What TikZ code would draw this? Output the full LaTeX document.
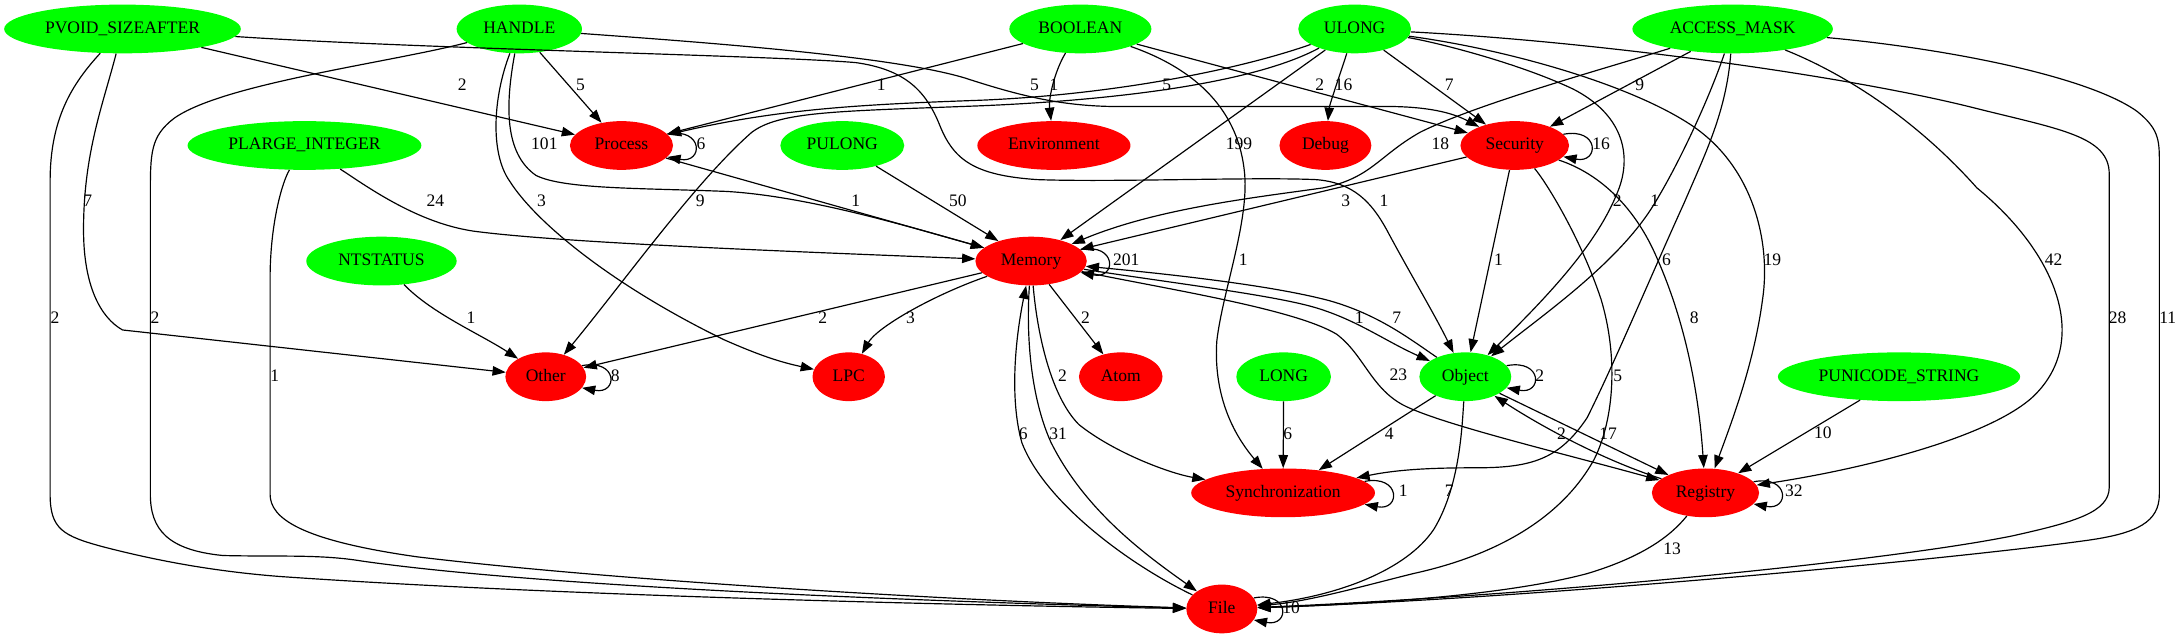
\documentclass[tikz,border=0pt]{standalone}
\usepackage{fontspec}
\setmainfont{Liberation Serif}
\usetikzlibrary{shapes.geometric,arrows.meta}
\definecolor{gvgreen}{RGB}{0,255,0}
\definecolor{gvred}{RGB}{255,0,0}
\begin{document}
\begin{tikzpicture}[x=1pt,y=-1pt,
  every node/.style={font=\fontsize{12.6}{14}\selectfont, text height=8.8pt, text depth=2.5pt, inner sep=0pt},
  tnode/.style={ellipse, fill=gvgreen, minimum height=35pt},
  cnode/.style={ellipse, fill=gvred, minimum height=35pt},
  e/.style={draw=black, line width=0.85pt, -{Triangle[length=9.5pt,width=6.8pt]}},
  lbl/.style={}]
\useasboundingbox[fill=white] (0,0) rectangle (1568,459);
% nodes
\node[tnode, minimum width=170pt] (pv) at (88,20.8) {PVOID\_SIZEAFTER};
\node[tnode, minimum width=90pt] (ha) at (373,20.8) {HANDLE};
\node[tnode, minimum width=102pt] (bo) at (776,20.8) {BOOLEAN};
\node[tnode, minimum width=81pt] (ul) at (973,20.8) {ULONG};
\node[tnode, minimum width=144pt] (am) at (1244.5,20.8) {ACCESS\_MASK};
\node[tnode, minimum width=168pt] (pl) at (218.7,104.5) {PLARGE\_INTEGER};
\node[cnode, minimum width=74pt] (pr) at (446.4,104.5) {Process};
\node[tnode, minimum width=89pt] (pu) at (605,104.5) {PULONG};
\node[cnode, minimum width=110pt] (en) at (757,104.5) {Environment};
\node[cnode, minimum width=66pt] (de) at (952,104.5) {Debug};
\node[cnode, minimum width=78pt] (se) at (1088,104.5) {Security};
\node[tnode, minimum width=108pt] (nt) at (274,187.5) {NTSTATUS};
\node[cnode, minimum width=80pt] (me) at (740.6,187.5) {Memory};
\node[cnode, minimum width=58pt] (ot) at (392,270.6) {Other};
\node[cnode, minimum width=52pt] (lp) at (609.6,270.6) {LPC};
\node[cnode, minimum width=60pt] (at) at (805,270.6) {Atom};
\node[tnode, minimum width=68pt] (lo) at (922,270.6) {LONG};
\node[tnode, minimum width=66pt] (ob) at (1052.5,270.6) {Object};
\node[tnode, minimum width=174pt] (ps) at (1364,270.6) {PUNICODE\_STRING};
\node[cnode, minimum width=132pt] (sy) at (921.6,354) {Synchronization};
\node[cnode, minimum width=77pt] (re) at (1225,354) {Registry};
\node[cnode, minimum width=51pt] (fi) at (877.6,437.4) {File};
% edges from PVOID_SIZEAFTER
\draw[e] (pv) -- (pr);
\draw[e] (pv) .. controls (74,75) and (60,110) .. (60,165) .. controls (60,205) and (72,228) .. (88,237) -- (ot);
\draw[e] (pv) .. controls (52,60) and (36,85) .. (36,130) -- (36,355) .. controls (36,380) and (45,385) .. (75,393) .. controls (110,402) and (150,410) .. (200,414) .. controls (400,428) and (700,435) .. (fi);
\draw[e] (pv) .. controls (300,35) and (560,40) .. (615,45) .. controls (650,50) and (665,65) .. (675,90) .. controls (685,115) and (700,126) .. (745,129) .. controls (800,131) and (900,127) .. (945,129) .. controls (972,131) and (985,145) .. (996,165) .. controls (1012,195) and (1030,225) .. (ob);
% HANDLE
\draw[e] (ha) -- (pr);
\draw[e] (ha) .. controls (363,75) and (362,110) .. (385,126) .. controls (405,136) and (460,135) .. (522,137.5) .. controls (580,141) and (650,162) .. (me);
\draw[e] (ha) .. controls (354,70) and (352,110) .. (366,130) .. controls (385,160) and (440,205) .. (520,244) .. controls (545,255) and (560,260) .. (lp);
\draw[e] (ha) .. controls (280,45) and (160,60) .. (125,85) .. controls (108,98) and (108,110) .. (108,140) -- (108,355) .. controls (108,380) and (120,395) .. (160,399) .. controls (200,400) and (230,398) .. (260,403) .. controls (400,423) and (700,433) .. (fi);
\draw[e] (ha) .. controls (500,30) and (640,40) .. (693,56) .. controls (730,68) and (760,76) .. (800,76.5) -- (1000,76.5) .. controls (1030,77) and (1045,82) .. (se);
% BOOLEAN
\draw[e] (bo) -- (pr);
\draw[e] (bo) .. controls (758,50) and (753,70) .. (en);
\draw[e] (bo) -- (se);
\draw[e] (bo) .. controls (860,50) and (890,80) .. (894,125) .. controls (897,160) and (878,210) .. (874,245) .. controls (872,275) and (880,305) .. (sy);
% ULONG
\draw[e] (ul) .. controls (890,50) and (800,68) .. (704,72) .. controls (620,75) and (560,78) .. (pr);
\draw[e] (ul) .. controls (900,60) and (800,72) .. (704,76) .. controls (600,80) and (560,80) .. (540,95) .. controls (500,130) and (450,200) .. (ot);
\draw[e] (ul) -- (me);
\draw[e] (ul) .. controls (962,55) and (955,75) .. (de);
\draw[e] (ul) -- (se);
\draw[e] (ul) .. controls (1030,30) and (1090,45) .. (1130,64) .. controls (1165,82) and (1172,110) .. (1163,135) .. controls (1150,170) and (1120,205) .. (ob);
\draw[e] (ul) .. controls (1080,35) and (1170,60) .. (1215,90) .. controls (1260,120) and (1272,175) .. (1266,215) .. controls (1260,260) and (1245,300) .. (re);
\draw[e] (ul) .. controls (1150,30) and (1330,55) .. (1420,78) .. controls (1480,93) and (1515,98) .. (1515,125) -- (1515,350) .. controls (1515,368) and (1490,375) .. (1445,385) .. controls (1350,404) and (1100,428) .. (fi);
% ACCESS_MASK
\draw[e] (am) .. controls (1150,50) and (1060,75) .. (1020,95) .. controls (990,112) and (985,128) .. (950,135) .. controls (900,142) and (830,150) .. (me);
\draw[e] (am) -- (se);
\draw[e] (am) .. controls (1228,70) and (1205,120) .. (1186,150) .. controls (1160,190) and (1110,225) .. (ob);
\draw[e] (am) .. controls (1240,80) and (1225,110) .. (1210,145) .. controls (1185,200) and (1160,260) .. (1140,300) .. controls (1120,330) and (1100,336) .. (1060,336) .. controls (1030,336) and (1005,337) .. (sy);
\draw[e] (am) .. controls (1330,55) and (1380,90) .. (1420,135) .. controls (1475,180) and (1500,240) .. (1465,280) .. controls (1440,310) and (1350,335) .. (re);
\draw[e] (am) .. controls (1400,35) and (1500,55) .. (1535,80) .. controls (1550,92) and (1551,100) .. (1551,115) -- (1551,355) .. controls (1551,375) and (1535,383) .. (1500,388) .. controls (1400,402) and (1100,430) .. (fi);
% PLARGE_INTEGER
\draw[e] (pl) .. controls (265,135) and (300,160) .. (340,166) .. controls (400,174) and (550,180) .. (me);
\draw[e] (pl) .. controls (203,130) and (194,160) .. (194,200) -- (194,355) .. controls (194,372) and (215,388) .. (300,400) .. controls (450,418) and (700,432) .. (fi);
% Process, PULONG, NTSTATUS
\draw[e] (pr) -- (me);
\draw[e] (pu) -- (me);
\draw[e] (nt) .. controls (310,225) and (345,240) .. (ot);
% Security
\draw[e] (se) -- (me);
\draw[e] (se) -- (ob);
\draw[e] (se) .. controls (1150,125) and (1175,150) .. (1190,185) .. controls (1210,230) and (1220,280) .. (re);
\draw[e] (se) .. controls (1110,130) and (1135,170) .. (1150,215) .. controls (1162,255) and (1160,300) .. (1145,330) .. controls (1120,375) and (1070,400) .. (1015,412) .. controls (975,422) and (940,432) .. (fi);
% Memory
\draw[e] (me) -- (ot);
\draw[e] (me) .. controls (670,212) and (630,235) .. (lp);
\draw[e] (me) -- (at);
\draw[e] (me) .. controls (745,240) and (755,285) .. (775,305) .. controls (800,325) and (840,340) .. (sy);
\draw[e] (me) .. controls (737,240) and (740,285) .. (755,318) .. controls (780,368) and (825,400) .. (fi);
\draw[e] (me) .. controls (840,203) and (915,212) .. (945,221) .. controls (975,230) and (995,245) .. (ob);
\draw[e] (me) .. controls (840,208) and (930,222) .. (960,240) .. controls (980,255) and (985,280) .. (1010,292) .. controls (1040,306) and (1120,325) .. (re);
% File
\draw[e] (fi) .. controls (810,405) and (750,360) .. (734,318) .. controls (726,290) and (728,250) .. (me);
% Object
\draw[e] (ob) .. controls (1012,243) and (990,226) .. (955,216) .. controls (910,204) and (830,196) .. (me);
\draw[e] (ob) -- (re);
\draw[e] (ob) -- (sy);
\draw[e] (ob) .. controls (1050,310) and (1048,350) .. (1030,380) .. controls (1010,410) and (960,428) .. (fi);
% Registry
\draw[e] (re) .. controls (1150,330) and (1105,305) .. (ob);
\draw[e] (re) .. controls (1200,385) and (1180,400) .. (1140,412) .. controls (1080,428) and (980,434) .. (fi);
% LONG, PUNICODE_STRING
\draw[e] (lo) -- (sy);
\draw[e] (ps) -- (re);
% self loops
\draw[e] (pr.14) .. controls +(26,-5) and +(26,5) .. (pr.-14);
\draw[e] (me.13) .. controls +(26,-5) and +(26,5) .. (me.-13);
\draw[e] (se.13) .. controls +(26,-5) and +(26,5) .. (se.-13);
\draw[e] (ot.17) .. controls +(26,-5) and +(26,5) .. (ot.-17);
\draw[e] (ob.15) .. controls +(26,-5) and +(26,5) .. (ob.-15);
\draw[e] (sy.8) .. controls +(26,-5) and +(26,5) .. (sy.-8);
\draw[e] (re.13) .. controls +(26,-5) and +(26,5) .. (re.-13);
\draw[e] (fi.19) .. controls +(26,-5) and +(26,5) .. (fi.-19);
% labels
\node[lbl] (l1) at (332,62) {2};
\node[lbl] (l2) at (63,145.5) {7};
\node[lbl] (l3) at (39.5,229) {2};
\node[lbl] (l4) at (417,62) {5};
\node[lbl] (l5) at (391,104.5) {101};
\node[lbl] (l6) at (389,145) {3};
\node[lbl] (l7) at (111.4,229) {2};
\node[lbl] (l8) at (743,62) {5};
\node[lbl] (l9) at (633,62) {1};
\node[lbl] (l10) at (757,62) {1};
\node[lbl] (l11) at (948,62) {2};
\node[lbl] (l12) at (893,187.5) {1};
\node[lbl] (l13) at (838,62) {5};
\node[lbl] (l14) at (503,145) {9};
\node[lbl] (l15) at (890,104.5) {199};
\node[lbl] (l16) at (965,62) {16};
\node[lbl] (l17) at (1041,62) {7};
\node[lbl] (l18) at (1161.6,145) {2};
\node[lbl] (l19) at (1188.5,145) {1};
\node[lbl] (l20) at (1197,187.5) {6};
\node[lbl] (l21) at (1034.5,104.5) {18};
\node[lbl] (l22) at (1177.7,62) {9};
\node[lbl] (l23) at (1475,187.5) {42};
\node[lbl] (l24) at (1557,229) {11};
\node[lbl] (l25) at (1521,229) {28};
\node[lbl] (l26) at (1273,187.5) {19};
\node[lbl] (l27) at (1217,229) {8};
\node[lbl] (l28) at (1162,270.6) {5};
\node[lbl] (l29) at (1076.3,187.5) {1};
\node[lbl] (l30) at (966.6,145) {3};
\node[lbl] (l31) at (312.7,145) {24};
\node[lbl] (l32) at (197.3,270.6) {1};
\node[lbl] (l33) at (688,145) {50};
\node[lbl] (l34) at (614.7,145) {1};
\node[lbl] (l35) at (338.4,229) {1};
\node[lbl] (l36) at (591,229) {2};
\node[lbl] (l37) at (654,229) {3};
\node[lbl] (l38) at (779.7,229) {2};
\node[lbl] (l39) at (763.2,270.6) {2};
\node[lbl] (l40) at (760,312.5) {31};
\node[lbl] (l41) at (735,312.5) {6};
\node[lbl] (l42) at (1003.3,229.4) {7};
\node[lbl] (l43) at (976.4,229.4) {1};
\node[lbl] (l44) at (1004.4,270.5) {23};
\node[lbl] (l45) at (1155,312.5) {17};
\node[lbl] (l46) at (1121.5,312.5) {2};
\node[lbl] (l47) at (997.8,312.5) {4};
\node[lbl] (l48) at (1041,353.5) {7};
\node[lbl] (l49) at (925,312.5) {6};
\node[lbl] (l50) at (1309.3,312) {10};
\node[lbl] (l51) at (1201,395) {13};
\node[lbl] (l52) at (994,145) {1};
\node[lbl] (s1) at (503.5,104.5) {6};
\node[lbl] (s2) at (809,187.5) {201};
\node[lbl] (s3) at (1150,104.5) {16};
\node[lbl] (s4) at (442,270.6) {8};
\node[lbl] (s5) at (1106,270.6) {2};
\node[lbl] (s6) at (1008,353.5) {1};
\node[lbl] (s7) at (1288.5,353.5) {32};
\node[lbl] (s8) at (927.4,437.4) {10};
\end{tikzpicture}
\end{document}
